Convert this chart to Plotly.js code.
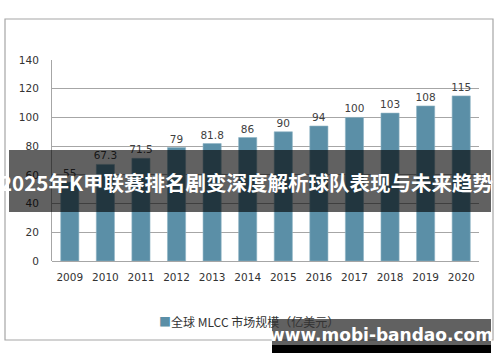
<!DOCTYPE html>
<html>
<head>
<meta charset="utf-8">
<script src="https://cdn.plot.ly/plotly-3.0.1.min.js"></script>
<style>
html,body{margin:0;padding:0;background:#fff;}
#chart{width:500px;height:362px;}
</style>
</head>
<body>
<div id="chart"></div>
<script>
const years = ['2009','2010','2011','2012','2013','2014','2015','2016','2017','2018','2019','2020'];
const marketSize = [55, 67.3, 71.5, 79, 81.8, 86, 90, 94, 100, 103, 108, 115];
const valueLabels = ['55','67.3','71.5','79','81.8','86','90','94','100','103','108','115'];
const seriesName = '全球 MLCC 市场规模（亿美元）';
const bannerText = '2025年K甲联赛排名剧变深度解析球队表现与未来趋势';
const watermarkText = 'www.mobi-bandao.com';
const barColor = '#5b8fa7';

const W = 500, H = 362;
const M = {l: 52, r: 21, t: 60, b: 101};
const PW = W - M.l - M.r, PH = H - M.t - M.b;
const px = x => (x - M.l) / PW;
const py = y => (H - M.b - y) / PH;

const font = "'DejaVu Sans', Verdana, sans-serif";
const cjk = "'Noto Sans CJK SC', 'DejaVu Sans', sans-serif";

const trace = {
  type: 'bar',
  x: years,
  y: marketSize,
  name: seriesName,
  text: valueLabels,
  textposition: 'outside',
  constraintext: 'none',
  cliponaxis: false,
  textfont: {family: font, size: 10.5, color: '#404040'},
  marker: {color: barColor, line: {color: '#8fb3c4', width: 0.6}},
  hoverinfo: 'skip'
};

const layout = {
  width: W, height: H,
  margin: M,
  paper_bgcolor: '#ffffff',
  plot_bgcolor: '#ffffff',
  bargap: 0.49,
  showlegend: false,
  xaxis: {
    type: 'category',
    showgrid: false,
    showline: false,
    ticks: '',
    ticklabelstandoff: 8,
    tickfont: {family: font, size: 10.5, color: '#333333'},
    fixedrange: true
  },
  yaxis: {
    range: [0, 140],
    dtick: 20,
    showgrid: true,
    gridcolor: '#a6a6a6',
    gridwidth: 1,
    zeroline: true,
    zerolinecolor: '#a6a6a6',
    zerolinewidth: 1,
    showline: true,
    linecolor: '#a6a6a6',
    linewidth: 1,
    ticks: '',
    ticklabelstandoff: 10,
    tickfont: {family: font, size: 10.5, color: '#333333'},
    fixedrange: true
  },
  shapes: [
    {type: 'rect', xref: 'paper', yref: 'paper', layer: 'below',
     x0: px(5), x1: px(493), y0: py(340), y1: py(19),
     line: {color: '#a6a6a6', width: 1.2}, fillcolor: 'rgba(0,0,0,0)'},
    {type: 'rect', xref: 'paper', yref: 'paper', layer: 'above',
     x0: px(9), x1: px(491), y0: py(212), y1: py(150),
     line: {width: 0}, fillcolor: 'rgba(0,0,0,0.62)'},
    {type: 'rect', xref: 'paper', yref: 'paper', layer: 'above',
     x0: px(272), x1: px(491), y0: py(345), y1: py(319),
     line: {width: 0}, fillcolor: 'rgba(0,0,0,0.62)'},
    {type: 'rect', xref: 'paper', yref: 'paper', layer: 'above',
     x0: px(272), x1: px(491), y0: py(353), y1: py(345),
     line: {width: 0}, fillcolor: '#000000'}
  ],
  annotations: [
    {xref: 'paper', yref: 'paper', x: px(157), y: py(321),
     xanchor: 'left', yanchor: 'middle', showarrow: false,
     text: '<span style="color:' + barColor + '">■</span>' + seriesName,
     font: {family: cjk, size: 12, color: '#333333'}},
    {xref: 'paper', yref: 'paper', x: px(246), y: py(182),
     xanchor: 'center', yanchor: 'middle', showarrow: false,
     text: '<b>' + bannerText + '</b>',
     font: {family: cjk, size: 20.5, color: '#ffffff'}},
    {xref: 'paper', yref: 'paper', x: px(381), y: py(335),
     xanchor: 'center', yanchor: 'middle', showarrow: false,
     text: '<b>' + watermarkText + '</b>',
     font: {family: font, size: 17, color: '#ffffff'}}
  ]
};

Plotly.newPlot('chart', [trace], layout, {staticPlot: true, displayModeBar: false});
</script>
</body>
</html>
